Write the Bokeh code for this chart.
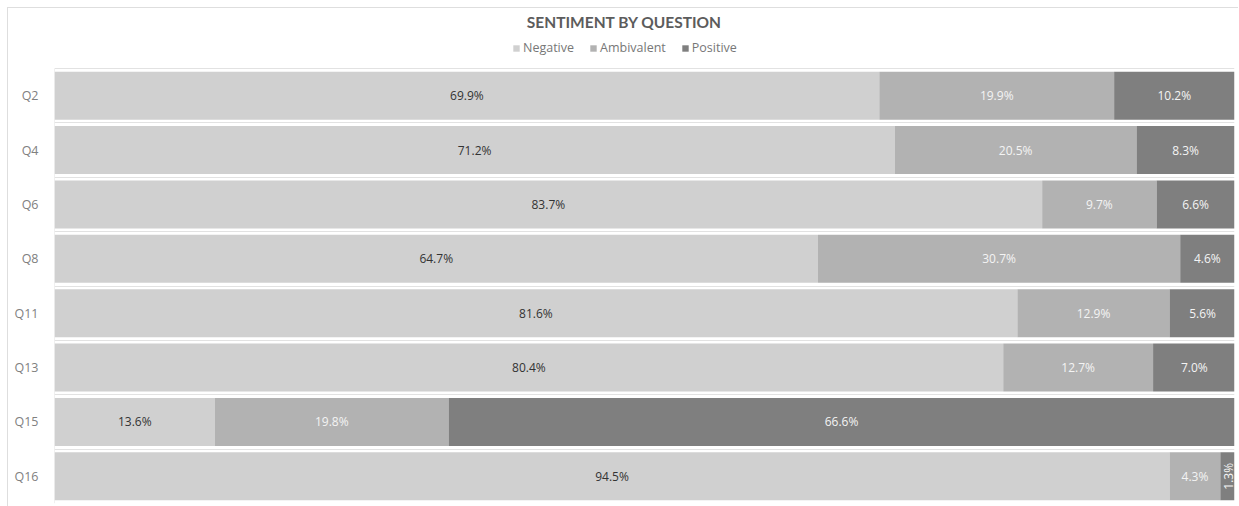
import math
from bokeh.plotting import figure
from bokeh.models import ColumnDataSource, FixedTicker, Legend, LegendItem, Label
from bokeh.core.properties import value
from bokeh.embed import file_html
from bokeh.resources import INLINE

questions = ["Q2", "Q4", "Q6", "Q8", "Q11", "Q13", "Q15", "Q16"]
negative = [69.9, 71.2, 83.7, 64.7, 81.6, 80.4, 13.6, 94.5]
ambivalent = [19.9, 20.5, 9.7, 30.7, 12.9, 12.7, 19.8, 4.3]
positive = [10.2, 8.3, 6.6, 4.6, 5.6, 7.0, 66.6, 1.3]
series_names = ["Negative", "Ambivalent", "Positive"]
colors = ["#d0d0d0", "#b2b2b2", "#7f7f7f"]
label_colors = ["#333333", "#f4f4f4", "#f4f4f4"]
title_text = "SENTIMENT BY QUESTION"

FONT = "Open Sans"
n = len(questions)
ypos = [n - 1 - i for i in range(n)]

# layout (pixels)
BL, BR, BT, BB = 46, 5, 0, 4
FW = 1180
BANDS_PX = 435      # height of the area holding the bars
TOP_PX = 60         # space above the bars for title and legend
W = BL + FW + BR
H = BT + TOP_PX + BANDS_PX + BB
band = BANDS_PX / n

p = figure(width=W, height=H, x_range=(0, 100),
           y_range=(-0.5, n - 0.5 + TOP_PX / band),
           output_backend="svg", toolbar_location=None,
           min_border_left=BL, min_border_right=BR, min_border_bottom=BB, min_border_top=BT)
p.margin = (7, 0, 0, 7)
p.styles = {"border-top": "1px solid #dedede", "border-left": "1px solid #dedede"}
p.outline_line_color = None

series = [negative, ambivalent, positive]
left = [0.0] * n
items = []
for name, vals, col, lcol in zip(series_names, series, colors, label_colors):
    right = [l + v for l, v in zip(left, vals)]
    src = ColumnDataSource(dict(
        y=ypos, left=left, right=right,
        mid=[(l + r) / 2 for l, r in zip(left, right)],
        txt=[f"{v:.1f}%" for v in vals],
        ang=[math.pi / 2 if v < 2 else 0.0 for v in vals],
    ))
    r = p.hbar(y="y", left="left", right="right", height=0.885, source=src,
               fill_color=col, line_color=None)
    p.text(x="mid", y="y", text="txt", angle="ang", source=src,
           text_align="center", text_baseline="middle",
           text_font=value(FONT), text_font_size="12px", text_color=lcol)
    items.append(LegendItem(label=name, renderers=[r]))
    left = right

# left boundary line of the bar area
p.segment(x0=[0], y0=[-0.5], x1=[0], y1=[n - 0.5], line_color="#e2e2e2", line_width=1)

legend = Legend(items=items, orientation="horizontal",
                location=(458, BANDS_PX + 12),
                label_text_font=FONT, label_text_font_size="12.5px",
                label_text_color="#777777", glyph_width=8, glyph_height=8,
                label_standoff=3, spacing=15, padding=0, margin=0,
                border_line_color=None, background_fill_alpha=0)
p.add_layout(legend, "center")

p.add_layout(Label(x=570, y=BANDS_PX + 47, x_units="screen", y_units="screen",
                   text=title_text, text_align="center", text_baseline="middle",
                   text_font="Lato", text_font_size="15.5px", text_font_style="bold",
                   text_color="#5c5c5c"))

p.xaxis.visible = False
p.xgrid.visible = False
p.ygrid.ticker = FixedTicker(ticks=[k - 0.5 for k in range(n + 1)])
p.ygrid.grid_line_color = "#e2e2e2"
p.yaxis.ticker = FixedTicker(ticks=ypos)
p.yaxis.major_label_overrides = {y: q for y, q in zip(ypos, questions)}
p.yaxis.major_tick_line_color = None
p.yaxis.minor_tick_line_color = None
p.yaxis.axis_line_color = None
p.yaxis.major_label_text_font = FONT
p.yaxis.major_label_text_font_size = "12.5px"
p.yaxis.major_label_text_color = "#808080"
p.yaxis.major_label_standoff = 10

open("out.html", "w").write(file_html(p, INLINE))
